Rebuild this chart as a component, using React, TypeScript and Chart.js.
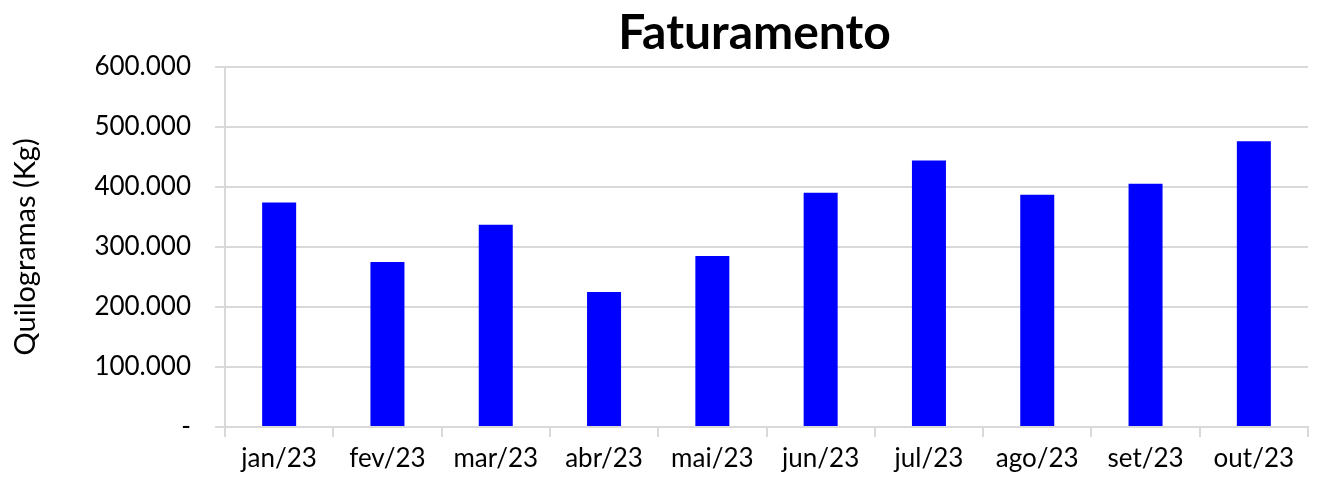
import React, { useEffect, useRef } from "react";
import { Chart, registerables } from "chart.js";

Chart.register(...registerables);

const categories = ["jan/23", "fev/23", "mar/23", "abr/23", "mai/23", "jun/23", "jul/23", "ago/23", "set/23", "out/23"];
const values = [374000, 275000, 337000, 225000, 285000, 390000, 444000, 387000, 405000, 476000];
const yTicks = [0, 100000, 200000, 300000, 400000, 500000, 600000];
const titleText = "Faturamento";
const yTitle = "Quilogramas (Kg)";

const FONT = "Lato, 'Open Sans', sans-serif";
const TITLE_SIZE = 48;

function fmt(v: number): string {
  if (v === 0) return "-";
  return Math.round(v).toString().replace(/\B(?=(\d{3})+(?!\d))/g, ".");
}

const centeredTitle = {
  id: "centeredTitle",
  afterDraw(chart: any) {
    const { ctx, chartArea } = chart;
    const box = chart.titleBlock;
    ctx.save();
    ctx.font = `bold ${TITLE_SIZE}px ${FONT}`;
    ctx.fillStyle = "#000";
    ctx.textAlign = "center";
    ctx.textBaseline = "middle";
    const cy = box ? (box.top + box.bottom) / 2 : 32;
    ctx.fillText(titleText, (chartArea.left + chartArea.right) / 2 - 12, cy);
    ctx.restore();
  },
};

export default function App() {
  const ref = useRef<HTMLCanvasElement | null>(null);
  useEffect(() => {
    if (!ref.current) return;
    const chart = new Chart(ref.current, {
      type: "bar",
      data: {
        labels: categories,
        datasets: [
          {
            data: values,
            backgroundColor: "#0000ff",
            borderWidth: 0,
            barPercentage: 0.314,
            categoryPercentage: 1,
          },
        ],
      },
      plugins: [centeredTitle],
      options: {
        animation: false,
        responsive: false,
        maintainAspectRatio: false,
        layout: { padding: { left: 0, right: 9, top: 0, bottom: 0 } },
        plugins: {
          legend: { display: false },
          tooltip: { enabled: false },
          title: {
            display: true,
            text: titleText,
            color: "rgba(0,0,0,0)",
            font: { family: FONT, size: 44, weight: "bold" },
            padding: { top: 6, bottom: 8 },
          },
        },
        scales: {
          x: {
            grid: {
              display: true,
              drawOnChartArea: false,
              drawTicks: true,
              tickLength: 10,
              color: "#d9d9d9",
              lineWidth: 2,
              offset: true,
            },
            border: { display: true, color: "#d9d9d9", width: 2 },
            ticks: {
              color: "#000",
              font: { family: FONT, size: 26 },
              padding: 6,
              maxRotation: 0,
              autoSkip: false,
            },
            afterFit: (s: any) => {
              s.height = 52;
            },
          },
          y: {
            min: 0,
            max: 600000,
            afterBuildTicks: (s: any) => {
              s.ticks = yTicks.map((v) => ({ value: v }));
            },
            grid: {
              color: "#d9d9d9",
              lineWidth: 2,
              tickLength: 10,
              drawTicks: true,
            },
            border: { display: true, color: "#d9d9d9", width: 2 },
            ticks: {
              color: "#000",
              font: { family: FONT, size: 26 },
              padding: 24,
              callback: (v: any) => fmt(Number(v)),
            },
            title: {
              display: true,
              text: yTitle,
              color: "#000",
              font: { family: FONT, size: 29 },
              padding: { top: 8, bottom: 0 },
            },
            afterFit: (s: any) => {
              s.width = 225;
            },
          },
        },
      },
    });
    return () => chart.destroy();
  }, []);
  return (
    <div style={{ position: "fixed", left: 0, top: 0, width: 1317, height: 479, background: "#fff" }}>
      <canvas ref={ref} width={1317} height={479} style={{ width: 1317, height: 479 }} />
    </div>
  );
}
